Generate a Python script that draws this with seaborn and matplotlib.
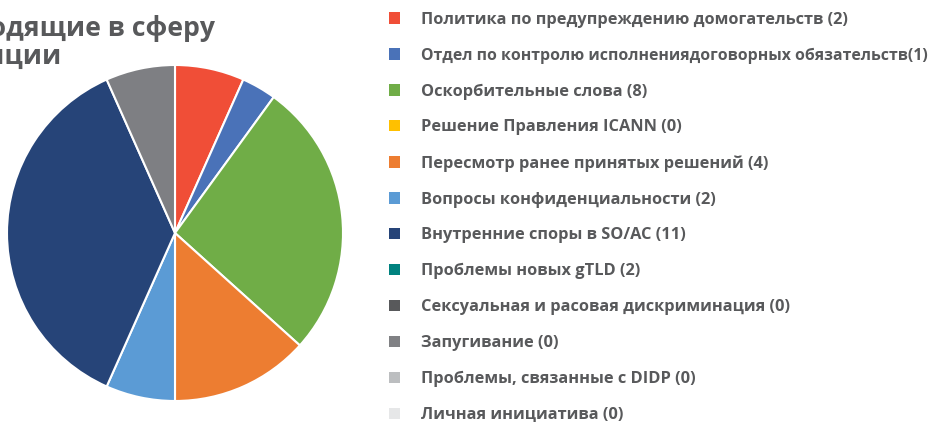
import matplotlib.pyplot as plt
import numpy as np
import seaborn as sns
from matplotlib.patches import Patch

categories = [
    "Политика по предупреждению домогательств",
    "Отдел по контролю исполнениядоговорных обязательств",
    "Оскорбительные слова",
    "Решение Правления ICANN",
    "Пересмотр ранее принятых решений",
    "Вопросы конфиденциальности",
    "Внутренние споры в SO/AC",
    "Проблемы новых gTLD",
    "Сексуальная и расовая дискриминация",
    "Запугивание",
    "Проблемы, связанные с DIDP",
    "Личная инициатива",
]
counts = [2, 1, 8, 0, 4, 2, 11, 2, 0, 0, 0, 0]
legend_colors = [
    "#f04e37", "#4a72b8", "#70ad47", "#ffc000", "#ed7d31", "#5b9bd5",
    "#264478", "#00827f", "#58595b", "#808184", "#bcbec0", "#e6e7e8",
]
# the gTLD slice is drawn grey in the original pie
slice_colors = list(legend_colors)
slice_colors[7] = "#7e7f83"

sns.set_style("white")
plt.rcParams["font.family"] = ["Open Sans", "DejaVu Sans"]
text_color = "#58595b"

fig = plt.figure(figsize=(9.29, 4.22), dpi=100)
ax = fig.add_axes([7 / 929, 21 / 422, 336 / 929, 336 / 422])

vals = np.array(counts)
mask = vals > 0
ax.pie(
    vals[mask],
    colors=np.array(slice_colors)[mask],
    startangle=90,
    counterclock=False,
    wedgeprops=dict(edgecolor="white", linewidth=1.5),
)
ax.set_xlim(-1, 1)
ax.set_ylim(-1, 1)
ax.set_aspect("equal")

# title is cut off by the left edge in the original
fig.text(215 / 929, 1 - 28 / 422, "Жалобы, входящие в сферу", ha="right", va="center",
         fontsize=19.2, fontweight="bold", color=text_color)
fig.text(62 / 929, 1 - 57 / 422, "компетенции", ha="right", va="center",
         fontsize=19.2, fontweight="bold", color=text_color)

handles = [Patch(facecolor=c, edgecolor="none") for c in legend_colors]
labels = [f"{name} ({n})" for name, n in zip(categories, counts)]
labels[1] = f"{categories[1]}({counts[1]})"
leg = fig.legend(
    handles, labels,
    loc="upper left", bbox_to_anchor=(382 / 929, 1 - 5 / 422),
    frameon=False, fontsize=11.8, handlelength=0.7, handleheight=0.7,
    handletextpad=1.3, labelspacing=1.21, borderaxespad=0,
)
for i, t in enumerate(leg.get_texts()):
    t.set_color(text_color)
    t.set_fontweight("bold")
    if i == 1:
        t.set_fontsize(11.4)

fig.savefig("out.png", dpi=100)
